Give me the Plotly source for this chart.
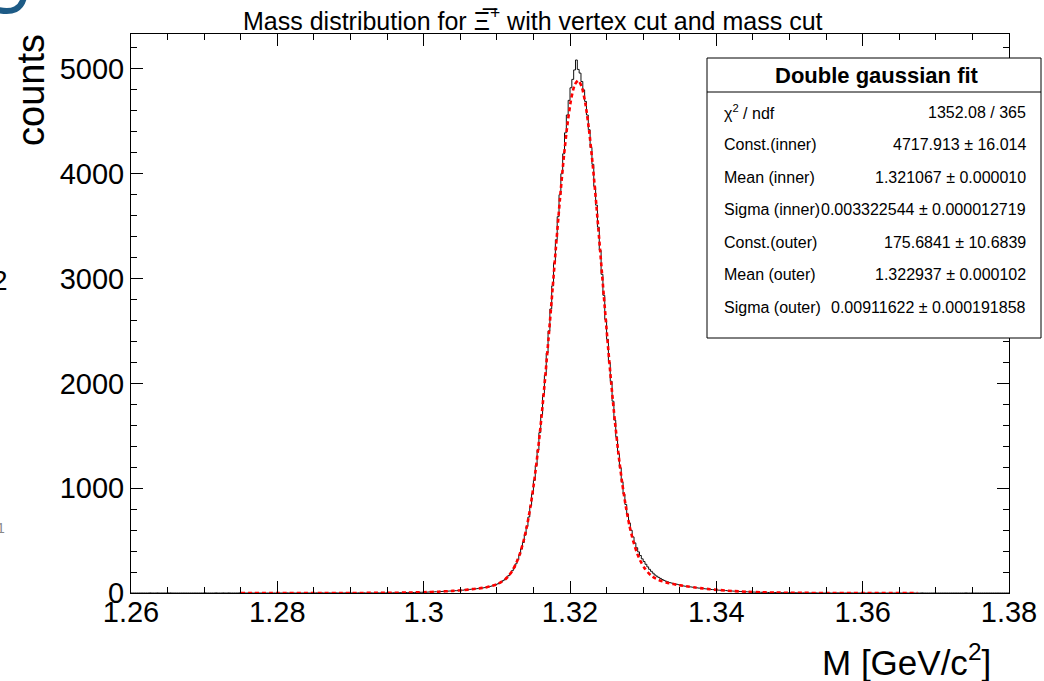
import plotly.graph_objects as go

# ---------------- data ----------------
bin_low = 1.26
bin_width = 0.00025
counts = [
    0, 0, 0, 0, 0, 0, 0, 0, 0, 0,
    1, 0, 0, 0, 1, 0, 0, 0, 0, 0,
    1, 1, 0, 0, 0, 0, 0, 0, 0, 0,
    0, 0, 0, 0, 0, 0, 0, 0, 0, 0,
    1, 0, 0, 0, 0, 0, 1, 0, 0, 0,
    1, 0, 0, 1, 0, 0, 0, 0, 0, 1,
    0, 0, 0, 0, 0, 1, 0, 0, 0, 0,
    0, 0, 1, 0, 0, 0, 0, 0, 0, 0,
    1, 0, 0, 0, 0, 1, 0, 0, 0, 0,
    0, 1, 0, 0, 0, 0, 1, 0, 0, 0,
    0, 1, 0, 0, 1, 0, 0, 0, 1, 0,
    0, 0, 1, 0, 0, 1, 0, 1, 0, 1,
    0, 1, 0, 0, 1, 0, 1, 1, 0, 1,
    1, 1, 0, 1, 2, 1, 1, 2, 1, 1,
    2, 1, 2, 2, 3, 2, 3, 3, 4, 3,
    4, 3, 4, 5, 4, 5, 6, 5, 7, 7,
    8, 7, 9, 10, 9, 11, 12, 12, 13, 14,
    15, 16, 16, 18, 19, 19, 21, 22, 23, 24,
    26, 27, 30, 31, 32, 35, 36, 37, 40, 42,
    44, 46, 49, 51, 55, 59, 63, 68, 74, 80,
    87, 96, 107, 118, 131, 148, 166, 188, 213, 242,
    278, 318, 365, 420, 482, 555, 635, 725, 830, 945,
    1075, 1215, 1365, 1530, 1700, 1890, 2080, 2290, 2500, 2710,
    2930, 3150, 3370, 3590, 3800, 4000, 4190, 4390, 4560, 4700,
    4820, 4900, 4990, 5085, 4995, 4960, 4880, 4800, 4690, 4560,
    4420, 4250, 4090, 3880, 3700, 3490, 3270, 3040, 2840, 2610,
    2420, 2200, 2020, 1830, 1650, 1490, 1330, 1195, 1060, 945,
    845, 752, 668, 598, 535, 478, 432, 392, 358, 326,
    300, 274, 249, 226, 207, 189, 172, 160, 149, 139,
    129, 120, 112, 106, 100, 95, 91, 87, 83, 79,
    72, 69, 66, 64, 61, 59, 57, 54, 52, 49,
    47, 45, 43, 41, 39, 37, 35, 33, 32, 30,
    29, 27, 26, 25, 24, 23, 21, 20, 19, 18,
    17, 16, 15, 14, 13, 12, 12, 11, 10, 10,
    9, 8, 8, 7, 7, 6, 6, 6, 5, 5,
    4, 4, 4, 3, 3, 3, 3, 2, 2, 2,
    2, 2, 1, 2, 1, 1, 1, 1, 0, 1,
    1, 0, 1, 0, 1, 0, 0, 1, 0, 0,
    0, 1, 0, 0, 0, 0, 1, 0, 0, 0,
    0, 0, 0, 1, 0, 0, 0, 0, 0, 0,
    1, 0, 0, 0, 0, 0, 0, 0, 1, 0,
    0, 0, 0, 0, 0, 1, 0, 0, 0, 0,
    0, 0, 0, 0, 0, 0, 0, 0, 0, 0,
    0, 0, 1, 0, 0, 0, 0, 0, 0, 0,
    0, 0, 0, 0, 0, 0, 0, 0, 0, 0,
    0, 0, 0, 0, 0, 0, 1, 0, 0, 0,
    0, 0, 0, 0, 0, 0, 0, 0, 0, 0,
    0, 0, 0, 0, 0, 0, 0, 0, 0, 0,
]

fit_x = [
    1.275, 1.28, 1.285, 1.29, 1.295, 1.298, 1.3, 1.302, 1.304, 1.3055,
    1.306625, 1.307125, 1.307625, 1.308125, 1.308625, 1.309125, 1.309625,
    1.310125, 1.310625, 1.311125, 1.311625, 1.312125, 1.312625, 1.313125,
    1.313625, 1.314125, 1.314625, 1.315125, 1.315625, 1.316125, 1.316625,
    1.317125, 1.317625, 1.318125, 1.318625, 1.319125, 1.319625, 1.320125,
    1.320625, 1.321125, 1.321625, 1.322125, 1.322625, 1.323125, 1.323625,
    1.324125, 1.324625, 1.325125, 1.325625, 1.326125, 1.326625, 1.327125,
    1.327625, 1.328125, 1.328625, 1.329125, 1.329625, 1.330125, 1.330625,
    1.331125, 1.331625, 1.332125, 1.332625, 1.333125, 1.333625, 1.334125,
    1.334625, 1.335125, 1.336125, 1.337125, 1.338125, 1.339125, 1.340125,
    1.342125, 1.344125, 1.346125, 1.348125, 1.350125, 1.352, 1.355, 1.36, 1.3675,
]
fit_y = [
    0, 0, 0.03, 0.26, 1.6, 4.2, 7.4, 12.6, 20.3, 28.3,
    36.7, 40.5, 44.2, 49.4, 55.7, 63.4, 73.5,
    86.2, 105.7, 129.6, 164.5, 213, 279.6, 369,
    488, 642, 836, 1075, 1363, 1695, 2070,
    2478, 2906, 3339, 3757, 4137, 4457, 4700,
    4846, 4890, 4826, 4660, 4403, 4071, 3683,
    3263, 2832, 2409, 2009, 1646, 1326, 1053,
    827, 643, 499, 388, 305, 244, 198,
    165, 141, 124, 111, 100.5, 91.7, 85.1,
    78.1, 72.5, 62.5, 52.5, 44, 36, 29.7,
    19.3, 12.2, 7.1, 4.0, 2.1, 1.0, 0.35, 0.06, 0,
]

x_ticks = [1.26, 1.28, 1.30, 1.32, 1.34, 1.36, 1.38]
y_ticks = [0, 1000, 2000, 3000, 4000, 5000]

title_text = "Mass distribution for \u039e\u0305<sup>+</sup> with vertex cut and mass cut"
stats_title = "Double gaussian fit"
stats_labels = ["\u03c7<sup>2</sup> / ndf", "Const.(inner)", "Mean (inner)", "Sigma (inner)",
                "Const.(outer)", "Mean (outer)", "Sigma (outer)"]
stats_values = ["1352.08 / 365", "4717.913 \u00b1 16.014", "1.321067 \u00b1 0.000010",
                "0.003322544 \u00b1 0.000012719", "175.6841 \u00b1 10.6839",
                "1.322937 \u00b1 0.000102", "0.00911622 \u00b1 0.000191858"]

# ---------------- figure ----------------
W, H = 1044, 681
L, R, T, B = 131, 1009, 34, 593
FONT = "Liberation Sans, Arial, Helvetica, sans-serif"


def px(x):
    return (x - L) / (R - L)


def py(y):
    return (B - y) / (B - T)


edges = [bin_low + i * bin_width for i in range(len(counts) + 1)]
hist_x = edges
hist_y = counts + [counts[-1]]

fig = go.Figure()
fig.add_trace(go.Scatter(
    x=hist_x, y=hist_y, mode="lines", line=dict(shape="hv", color="#111111", width=1),
    hoverinfo="skip", showlegend=False))
fig.add_trace(go.Scatter(
    x=fit_x, y=fit_y, mode="lines",
    line=dict(shape="spline", smoothing=0.6, color="#ff0000", width=2.6, dash="4px,3px"),
    hoverinfo="skip", showlegend=False))

axis_common = dict(
    showgrid=False, zeroline=False, showline=True, linecolor="black", linewidth=1,
    mirror="allticks", ticks="inside", ticklen=12, tickwidth=1, tickcolor="black",
    tickfont=dict(family=FONT, size=29, color="black"), automargin=False,
)
fig.update_xaxes(
    range=[1.26, 1.38], tickvals=x_ticks, ticktext=[f"{v:g}" for v in x_ticks],
    ticklabelstandoff=-7,
    minor=dict(dtick=0.005, tick0=1.26, ticks="inside", ticklen=6, tickcolor="black", showgrid=False),
    **axis_common)
fig.update_yaxes(
    range=[0, 5333], tickvals=y_ticks, ticktext=[str(v) for v in y_ticks],
    minor=dict(dtick=200, tick0=0, ticks="inside", ticklen=6, tickcolor="black", showgrid=False),
    **axis_common)

shapes = []
annotations = []

# stats box
bx0, bx1, by0, by1, bsep = 707, 1041, 338, 58, 92
shapes.append(dict(type="rect", xref="paper", yref="paper", x0=px(bx0), x1=px(bx1),
                   y0=py(by0), y1=py(by1), line=dict(color="black", width=1),
                   fillcolor="white", layer="above"))
shapes.append(dict(type="line", xref="paper", yref="paper", x0=px(bx0), x1=px(bx1),
                   y0=py(bsep), y1=py(bsep), line=dict(color="black", width=1), layer="above"))
annotations.append(dict(text="<b>" + stats_title + "</b>", xref="paper", yref="paper",
                        x=px(877), y=py(75), showarrow=False, xanchor="center", yanchor="middle",
                        font=dict(family=FONT, size=22, color="black")))
row0, row_step = 112, 32.5
for i, (lab, val) in enumerate(zip(stats_labels, stats_values)):
    yy = py(row0 + i * row_step)
    annotations.append(dict(text=lab, xref="paper", yref="paper", x=px(722), y=yy,
                            showarrow=False, xanchor="left", yanchor="middle",
                            font=dict(family=FONT, size=16, color="black")))
    annotations.append(dict(text=val, xref="paper", yref="paper", x=px(1028), y=yy,
                            showarrow=False, xanchor="right", yanchor="middle",
                            font=dict(family=FONT, size=16, color="black")))

# title
annotations.append(dict(text=title_text, xref="paper", yref="paper", x=px(533), y=py(19),
                        showarrow=False, xanchor="center", yanchor="middle",
                        font=dict(family=FONT, size=25, color="black")))
# axis titles
annotations.append(dict(text="counts", xref="paper", yref="paper", x=px(31), y=py(32),
                        showarrow=False, xanchor="center", yanchor="top", textangle=-90,
                        font=dict(family=FONT, size=38, color="black")))
annotations.append(dict(text="M [GeV/c<sup>2</sup>]", xref="paper", yref="paper",
                        x=px(993), y=py(660), showarrow=False, xanchor="right", yanchor="middle",
                        font=dict(family=FONT, size=35, color="black")))
# edge fragments from neighbouring panels
annotations.append(dict(text="2", xref="paper", yref="paper", x=px(10), y=py(280),
                        showarrow=False, xanchor="right", yanchor="middle",
                        font=dict(family=FONT, size=28, color="black")))
annotations.append(dict(text="1", xref="paper", yref="paper", x=px(7), y=py(528),
                        showarrow=False, xanchor="right", yanchor="middle",
                        font=dict(family=FONT, size=14, color="#888888")))
shapes.append(dict(type="path", xref="paper", yref="paper",
                   path=f"M {px(24)},{py(-3)} Q {px(20)},{py(15)} {px(-2)},{py(10)}",
                   line=dict(color="#1d5b86", width=6)))

fig.update_layout(
    width=W, height=H, autosize=False,
    margin=dict(l=L, r=W - R, t=T, b=H - B, pad=0, autoexpand=False),
    paper_bgcolor="white", plot_bgcolor="white",
    shapes=shapes, annotations=annotations, showlegend=False,
    font=dict(family=FONT, color="black"),
)

fig.write_html("out.html", config={"displayModeBar": False},
               post_script="document.body.style.margin='0';document.body.style.padding='0';")
